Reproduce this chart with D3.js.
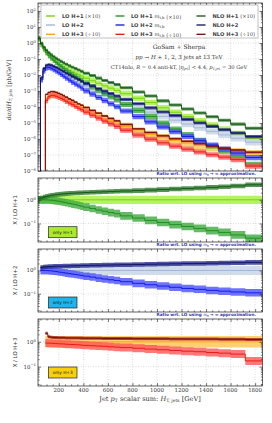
<!DOCTYPE html>
<html>
<head>
<meta charset="utf-8">
<script src="https://cdn.jsdelivr.net/npm/d3@7"></script>
<style>
body { margin: 0; background: #fff; }
svg { display: block; }
text { fill: #333; }
</style>
</head>
<body>
<script>
const W = 272, H = 423

// histogram bin edges, GeV
const edges = [30,50,70,90,110,130,150,170,190,210,230,250,275,300,325,350,375,400,450,500,550,600,650,700,800,900,1000,1100,1200,1300,1400,1500,1600,1720,1860]

// LO cross sections (mt -> inf), pb/GeV, before the legend scaling
const lo1 = [1.8e-1,7.9e-2,4.2e-2,2.5e-2,1.66e-2,1.17e-2,8.7e-3,6.6e-3,5.1e-3,4.1e-3,3.2e-3,2.6e-3,2.0e-3,1.6e-3,1.3e-3,1.05e-3,8.5e-4,6.3e-4,4.4e-4,3.0e-4,2.1e-4,1.5e-4,1.1e-4,6.8e-5,3.5e-5,1.9e-5,8.9e-6,4.7e-6,2.5e-6,1.35e-6,7.4e-7,4.2e-7,2.2e-7,1.1e-7]
const lo2 = [null,5.0e-3,1.8e-2,2.8e-2,3.0e-2,2.75e-2,2.3e-2,1.95e-2,1.6e-2,1.3e-2,1.05e-2,8.3e-3,6.5e-3,5.0e-3,4.0e-3,3.2e-3,2.5e-3,1.8e-3,1.23e-3,8.3e-4,5.8e-4,4.0e-4,2.8e-4,1.7e-4,8.9e-5,4.8e-5,2.6e-5,1.5e-5,8.5e-6,5.0e-6,3.0e-6,1.8e-6,1.1e-6,6.3e-7]
const lo3 = [null,null,null,2.8e-3,5.0e-3,6.0e-3,6.0e-3,5.5e-3,4.8e-3,4.1e-3,3.5e-3,2.8e-3,2.2e-3,1.8e-3,1.4e-3,1.1e-3,9.1e-4,6.6e-4,4.4e-4,3.0e-4,2.0e-4,1.4e-4,1.0e-4,6.0e-5,3.2e-5,1.9e-5,1.2e-5,7.9e-6,5.5e-6,3.9e-6,2.8e-6,2.1e-6,1.6e-6,1.2e-6]

// NLO / LO
const kNlo1 = [1.15,1.2,1.3,1.4,1.48,1.55,1.6,1.65,1.7,1.74,1.78,1.82,1.86,1.9,1.93,1.96,1.99,2.03,2.08,2.13,2.18,2.23,2.28,2.35,2.45,2.57,2.7,2.85,3.0,3.15,3.35,3.55,3.85,4.3]
const kNlo2 = [null,1.35,1.42,1.45,1.47,1.49,1.5,1.51,1.52,1.53,1.54,1.55,1.57,1.58,1.6,1.61,1.62,1.64,1.66,1.68,1.7,1.72,1.74,1.77,1.81,1.85,1.89,1.93,1.97,2.01,2.05,2.1,2.15,2.22]
const kNlo3 = [null,null,null,2.2,1.6,1.52,1.5,1.48,1.47,1.46,1.45,1.44,1.44,1.43,1.42,1.42,1.41,1.4,1.39,1.38,1.37,1.36,1.36,1.35,1.34,1.33,1.32,1.31,1.3,1.3,1.29,1.28,1.28,1.24]

// LO with full mt,mb dependence / LO (mt -> inf)
const rMt1 = [1.0,1.0,1.0,0.99,0.98,0.96,0.93,0.9,0.87,0.83,0.79,0.75,0.7,0.66,0.62,0.58,0.54,0.49,0.43,0.37,0.33,0.29,0.26,0.21,0.17,0.135,0.11,0.09,0.075,0.062,0.05,0.042,0.033,0.024]
const rMt2 = [null,1.0,1.0,1.0,0.98,0.96,0.93,0.9,0.86,0.83,0.8,0.77,0.73,0.7,0.67,0.64,0.61,0.57,0.52,0.47,0.43,0.4,0.37,0.33,0.28,0.245,0.215,0.19,0.17,0.155,0.14,0.13,0.12,0.11]
const rMt3 = [null,null,null,0.89,0.88,0.87,0.86,0.85,0.835,0.83,0.82,0.80,0.79,0.78,0.77,0.76,0.74,0.72,0.70,0.68,0.66,0.63,0.61,0.585,0.55,0.51,0.48,0.45,0.42,0.40,0.37,0.35,0.32,0.17]

// scale uncertainty (multiplicative up/down)
const bandLo = [1.5, 1.58, 1.7]
const bandMt = [1.45, 1.45, 1.45]
const bandNlo = [1.25, 1.25, 1.15]

const legendScale = [10, 1, 0.1]
const xTicks = [200,400,600,800,1000,1200,1400,1600,1800]

const COL = {
    lo: [{fill: "#a4f03c", line: "#6fd000"}, {fill: "#c5d3e6", line: "#9db2d0"}, {fill: "#ffc450", line: "#ffa000"}],
    mt: [{fill: "#3faa3f", line: "#1b8a1b"}, {fill: "#4a50ff", line: "#0a14e0"}, {fill: "#ff5555", line: "#e81010"}],
    nlo: [{fill: "#2a7a2a", line: "#135013"}, {fill: "#262a92", line: "#0e0f58"}, {fill: "#a52020", line: "#6e0a0a"}]
}

const svg = d3.select("body").append("svg").attr("width", W).attr("height", H)
svg.append("rect").attr("width", W).attr("height", H).attr("fill", "#fff")

const X0 = 38, X1 = 262.5
const x = d3.scaleLinear().domain([30, 1860]).range([X0, X1])

const PANELS = [
    {top: 3, bot: 171},
    {top: 178, bot: 242},
    {top: 249, bot: 312},
    {top: 319, bot: 386}
]

const yMain = d3.scaleLog().domain([1e-8, Math.pow(10, 2.5)]).range([PANELS[0].bot, PANELS[0].top])
const yRatio = PANELS.slice(1).map(p => d3.scaleLog().domain([Math.pow(10, -1.78), Math.pow(10, 0.92)]).range([p.bot, p.top]))

const serif = "'DejaVu Serif', serif"
const sans = "'DejaVu Sans', sans-serif"

function bandPts(vals, f) {
    const pts = []
    vals.forEach((v, i) => {
        if (v == null) return
        pts.push({x: edges[i], lo: v / f, hi: v * f}, {x: edges[i + 1], lo: v / f, hi: v * f})
    })
    return pts
}

function drawSeries(g, y, vals, f, col, dropDown) {
    const pts = bandPts(vals, f)
    const area = d3.area().x(d => x(d.x)).y0(d => y(d.lo)).y1(d => y(d.hi))
    g.append("path").attr("d", area(pts)).attr("fill", col.fill).attr("fill-opacity", 0.8)
    const linePts = pts.map(d => [x(d.x), y(Math.sqrt(d.lo * d.hi))])
    if (dropDown && pts[0].x > edges[0]) linePts.unshift([x(pts[0].x), y.range()[0]])
    g.append("path").attr("d", d3.line()(linePts)).attr("fill", "none")
        .attr("stroke", col.line).attr("stroke-width", 0.9)
}

function frame(p, y, majors) {
    const g = svg.append("g")
    g.selectAll(".gx").data(xTicks).join("line")
        .attr("x1", d => x(d)).attr("x2", d => x(d)).attr("y1", p.top).attr("y2", p.bot)
        .attr("stroke", "#bbb").attr("stroke-width", 0.5).attr("stroke-dasharray", "1,1.5")
    g.selectAll(".gy").data(majors).join("line")
        .attr("x1", X0).attr("x2", X1).attr("y1", d => y(d)).attr("y2", d => y(d))
        .attr("stroke", "#bbb").attr("stroke-width", 0.5).attr("stroke-dasharray", "1,1.5")
    return g
}

function ticks(p, y, majors) {
    const minorsX = d3.range(50, 1860, 50).filter(v => v % 200 !== 0)
    const [d0, d1] = y.domain()
    const minorsY = []
    for (let e = Math.floor(Math.log10(d0)); e <= Math.ceil(Math.log10(d1)); e++) {
        for (let m = 2; m < 10; m++) {
            const v = m * Math.pow(10, e)
            if (v >= d0 && v <= d1) minorsY.push(v)
        }
    }
    const g = svg.append("g").attr("color", "#222")
    const put = (axis, tx, ty) => {
        const a = g.append("g").attr("transform", `translate(${tx},${ty})`).call(axis)
        a.select(".domain").remove()
        a.selectAll("line").attr("stroke-width", 0.6)
    }
    put(d3.axisBottom(x).tickValues(xTicks).tickSize(-3).tickFormat(""), 0, p.bot)
    put(d3.axisBottom(x).tickValues(minorsX).tickSize(-1.6).tickFormat(""), 0, p.bot)
    put(d3.axisTop(x).tickValues(xTicks).tickSize(-3).tickFormat(""), 0, p.top)
    put(d3.axisTop(x).tickValues(minorsX).tickSize(-1.6).tickFormat(""), 0, p.top)
    put(d3.axisLeft(y).tickValues(majors).tickSize(-3).tickFormat(""), X0, 0)
    put(d3.axisLeft(y).tickValues(minorsY).tickSize(-1.6).tickFormat(""), X0, 0)
    put(d3.axisRight(y).tickValues(majors).tickSize(-3).tickFormat(""), X1, 0)
    put(d3.axisRight(y).tickValues(minorsY).tickSize(-1.6).tickFormat(""), X1, 0)
    g.append("rect").attr("x", X0).attr("y", p.top).attr("width", X1 - X0).attr("height", p.bot - p.top)
        .attr("fill", "none").attr("stroke", "#222").attr("stroke-width", 0.7)
    majors.forEach(v => {
        const e = Math.round(Math.log10(v))
        const t = svg.append("text").attr("x", X0 - 2).attr("y", y(v) + 2)
            .attr("text-anchor", "end").attr("font-family", serif).attr("font-size", 5.5)
        t.append("tspan").text("10")
        t.append("tspan").attr("dy", -2.3).attr("font-size", 3.8).text(e < 0 ? "\u2212" + (-e) : e)
    })
}

function clipped(id, p) {
    svg.append("clipPath").attr("id", id).append("rect")
        .attr("x", X0).attr("y", p.top).attr("width", X1 - X0).attr("height", p.bot - p.top)
    return svg.append("g").attr("clip-path", `url(#${id})`)
}

// ---------- main panel ----------
const mainMajors = d3.range(-8, 3).map(e => Math.pow(10, e))
frame(PANELS[0], yMain, mainMajors)
const gMain = clipped("clip0", PANELS[0])
const los = [lo1, lo2, lo3], ks = [kNlo1, kNlo2, kNlo3], rs = [rMt1, rMt2, rMt3]

los.forEach((lo, j) => drawSeries(gMain, yMain, lo.map(v => v == null ? null : v * legendScale[j]), bandLo[j], COL.lo[j], true))
los.forEach((lo, j) => drawSeries(gMain, yMain, lo.map((v, i) => v == null ? null : v * rs[j][i] * legendScale[j]), bandMt[j], COL.mt[j], true))
los.forEach((lo, j) => drawSeries(gMain, yMain, lo.map((v, i) => v == null ? null : v * ks[j][i] * legendScale[j]), bandNlo[j], COL.nlo[j], true))
ticks(PANELS[0], yMain, mainMajors)

// legend
const leg = svg.append("g")
leg.append("rect").attr("x", 41).attr("y", 5).attr("width", 217).attr("height", 33)
    .attr("fill", "#fff").attr("stroke", "#999").attr("stroke-width", 0.6)
const legCols = [{lx: 46, tx: 62, kind: "lo"}, {lx: 115.5, tx: 131, kind: "mt"}, {lx: 196.5, tx: 212.5, kind: "nlo"}]
const legRows = [16, 25, 34.3]
const scaleTxt = [" (\u00d710)", "", " (\u00f710)"]
legCols.forEach(c => {
    legRows.forEach((ry, j) => {
        leg.append("line").attr("x1", c.lx).attr("x2", c.lx + 9).attr("y1", ry).attr("y2", ry)
            .attr("stroke", COL[c.kind][j].line).attr("stroke-width", 1.3)
        const t = leg.append("text").attr("x", c.tx).attr("y", ry + 1.9)
            .attr("font-family", sans).attr("font-weight", "bold").attr("font-size", 5.2).style("fill", "#444")
        t.append("tspan").text((c.kind === "nlo" ? "NLO" : "LO") + " H+" + (j + 1) + (c.kind === "mt" ? " " : ""))
        if (c.kind === "mt") {
            t.append("tspan").attr("font-family", serif).attr("font-style", "italic").attr("font-weight", "normal").text("m")
            t.append("tspan").attr("font-family", serif).attr("font-weight", "normal").attr("font-size", 3.8).attr("dy", 1.2).text("t,b")
            t.append("tspan").attr("dy", -1.2).text("")
        }
        t.append("tspan").attr("font-family", serif).attr("font-weight", "normal").text(scaleTxt[j])
    })
})

// process annotations
const ann = svg.append("g").attr("font-family", serif).attr("text-anchor", "middle")
ann.append("text").attr("x", 179).attr("y", 49).attr("font-size", 6).text("GoSam + Sherpa")
const a2 = ann.append("text").attr("x", 179).attr("y", 59).attr("font-size", 5.6)
a2.append("tspan").attr("font-style", "italic").text("pp")
a2.append("tspan").text(" \u2192 ")
a2.append("tspan").attr("font-style", "italic").text("H")
a2.append("tspan").text(" + 1, 2, 3 jets at 13 TeV")
const a3 = ann.append("text").attr("x", 179).attr("y", 68.5).attr("font-size", 5.2)
a3.append("tspan").text("CT14nlo, ")
a3.append("tspan").attr("font-style", "italic").text("R")
a3.append("tspan").text(" = 0.4 anti-kT, |")
a3.append("tspan").attr("font-style", "italic").text("\u03b7")
a3.append("tspan").attr("font-size", 3.6).attr("dy", 1).text("jet")
a3.append("tspan").attr("dy", -1).text("| < 4.4, ")
a3.append("tspan").attr("font-style", "italic").text("p")
a3.append("tspan").attr("font-size", 3.6).attr("dy", 1).text("T,jet")
a3.append("tspan").attr("dy", -1).text(" = 30 GeV")

// main y title
const yt = svg.append("text").attr("transform", `translate(11,${(PANELS[0].top + PANELS[0].bot) / 2 + 3}) rotate(-90)`)
    .attr("text-anchor", "middle").attr("font-family", serif).attr("font-size", 6)
yt.append("tspan").attr("font-style", "italic").text("d\u03c3/dH")
yt.append("tspan").attr("font-style", "italic").attr("font-size", 4.2).attr("dy", 1.3).text("T, jets")
yt.append("tspan").attr("dy", -1.3).text("  [pb/GeV]")

// ---------- ratio panels ----------
const ratioMajors = [0.1, 1]
const boxFill = ["#abe82e", "#1cb4ea", "#f7cf0a"]
const boxY = [226.7, 297, 367]

yRatio.forEach((y, j) => {
    const p = PANELS[j + 1]
    frame(p, y, ratioMajors)
    const g = clipped("clip" + (j + 1), p)
    drawSeries(g, y, los[j].map(v => v == null ? null : 1), bandLo[j], COL.lo[j], false)
    drawSeries(g, y, rs[j], bandMt[j], COL.mt[j], false)
    drawSeries(g, y, ks[j], bandNlo[j], COL.nlo[j], false)
    ticks(p, y, ratioMajors)

    const nt = svg.append("text").attr("x", 256).attr("y", p.top - 3)
        .attr("text-anchor", "end").attr("font-family", sans).attr("font-weight", "bold")
        .attr("font-size", 4.2).style("fill", "#3535b0")
    nt.append("tspan").text("Ratio wrt. LO using ")
    nt.append("tspan").attr("font-family", serif).attr("font-style", "italic").attr("font-weight", "normal").text("m")
    nt.append("tspan").attr("font-size", 3).attr("dy", 0.9).text("t")
    nt.append("tspan").attr("dy", -0.9).text(" \u2192 \u221e approximation.")

    svg.append("text").attr("transform", `translate(17,${(p.top + p.bot) / 2}) rotate(-90)`)
        .attr("text-anchor", "middle").attr("font-family", sans).attr("font-size", 5.4)
        .text("X  /  LO H+" + (j + 1))

    svg.append("rect").attr("x", 48.5).attr("y", boxY[j]).attr("width", 28.5).attr("height", 11)
        .attr("fill", boxFill[j]).attr("stroke", "#222").attr("stroke-width", 0.7)
    svg.append("text").attr("x", 62.7).attr("y", boxY[j] + 7).attr("text-anchor", "middle")
        .attr("font-family", sans).attr("font-size", 4.3).style("fill", "#111").text("only H+" + (j + 1))
})

// x tick labels and title
svg.append("g").selectAll("text").data(xTicks).join("text")
    .attr("x", d => x(d)).attr("y", 392).attr("text-anchor", "middle")
    .attr("font-family", serif).attr("font-size", 5.5).text(d => d)

const xt = svg.append("text").attr("x", 150).attr("y", 401).attr("text-anchor", "middle")
    .attr("font-family", serif).attr("font-size", 6.6)
xt.append("tspan").text("Jet ")
xt.append("tspan").attr("font-style", "italic").text("p")
xt.append("tspan").attr("font-size", 4.5).attr("dy", 1.3).text("T")
xt.append("tspan").attr("dy", -1.3).text(" scalar sum:  ")
xt.append("tspan").attr("font-style", "italic").text("H")
xt.append("tspan").attr("font-size", 4.5).attr("dy", 1.3).text("T, jets")
xt.append("tspan").attr("dy", -1.3).text(" [GeV]")
</script>
</body>
</html>
